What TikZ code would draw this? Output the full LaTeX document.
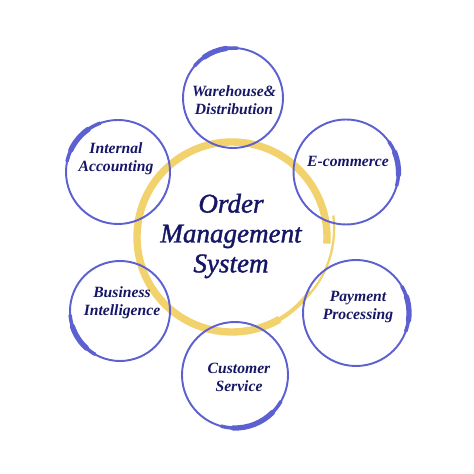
\documentclass[tikz,border=0pt]{standalone}
\usepackage{fontspec}
\setmainfont{Liberation Serif}
\newfontfamily\omsfont[FakeBold=1.4]{Liberation Serif}
\definecolor{ringblue}{RGB}{92,96,208}
\definecolor{ringyellow}{RGB}{241,210,108}
\definecolor{textnavy}{RGB}{22,22,102}
\begin{document}
\begin{tikzpicture}[
    ring/.style={draw=ringblue, line width=1.1pt},
    brush/.style={draw=ringblue, line width=2.0pt, line cap=round},
    brushcore/.style={draw=ringblue, line width=3.0pt, line cap=round},
    lbl/.style={text=textnavy, align=center, font=\fontsize{8.9}{10.3}\selectfont\bfseries\itshape},
    title/.style={text=textnavy, align=center, font=\fontsize{15.4}{17}\selectfont\omsfont\itshape}
  ]
    \useasboundingbox (0,0) rectangle (9.48,9.48);
    % centre ring
    \coordinate (oms) at (4.64,4.74);
    \draw [ringyellow, line width=4.2pt] (oms) ++(-4:1.9) arc[start angle=-4, end angle=300, radius=1.9];
    \draw [ringyellow, line width=2.4pt] (oms) ++(290:1.9) arc[start angle=290, end angle=325, radius=1.9];
    \draw [ringyellow, line width=1.3pt, shift={(oms)}] plot[domain=315:372, smooth, samples=20]
      ({(1.9+0.003*(\x-315))*cos(\x)}, {(1.9+0.003*(\x-315))*sin(\x)});
    \node [title] (omstext) at (4.62,4.76) {Order\\Management\\System};
    % outer rings
    \coordinate (wh) at (4.66,7.52);
    \coordinate (ia) at (2.36,6.04);
    \coordinate (ec) at (6.92,6.04);
    \coordinate (bi) at (2.40,3.26);
    \coordinate (pp) at (7.12,3.22);
    \coordinate (cs) at (4.70,1.98);
    \draw [ring] (wh) circle[radius=1.0];
    \draw [ring] (ia) circle[radius=1.04];
    \draw [ring] (ec) circle[radius=1.05];
    \draw [ring] (bi) circle[radius=1.0];
    \draw [ring] (pp) circle[radius=1.06];
    \draw [ring] (cs) circle[radius=1.06];
    \draw [brush] (wh) ++(85:1.0) arc[start angle=85, end angle=140, radius=1.0];
    \draw [brushcore] (wh) ++(98:1.0) arc[start angle=98, end angle=125, radius=1.0];
    \draw [brush] (ia) ++(110:1.04) arc[start angle=110, end angle=168, radius=1.04];
    \draw [brushcore] (ia) ++(125:1.04) arc[start angle=125, end angle=155, radius=1.04];
    \draw [brush] (ec) ++(-15:1.05) arc[start angle=-15, end angle=35, radius=1.05];
    \draw [brushcore] (ec) ++(-3:1.05) arc[start angle=-3, end angle=22, radius=1.05];
    \draw [brush] (bi) ++(185:1.0) arc[start angle=185, end angle=240, radius=1.0];
    \draw [brushcore] (bi) ++(198:1.0) arc[start angle=198, end angle=228, radius=1.0];
    \draw [brush] (pp) ++(-20:1.06) arc[start angle=-20, end angle=30, radius=1.06];
    \draw [brushcore] (pp) ++(-8:1.06) arc[start angle=-8, end angle=18, radius=1.06];
    \draw [brush] (cs) ++(255:1.06) arc[start angle=255, end angle=330, radius=1.06];
    \draw [brushcore] (cs) ++(268:1.06) arc[start angle=268, end angle=315, radius=1.06];
    % labels
    \node [lbl] (whtext) at (4.68,7.48) {Warehouse\&\\Distribution};
    \node [lbl] (iatext) at (2.32,6.30) {Internal\\Accounting};
    \node [lbl] (ectext) at (6.96,6.26) {E-commerce};
    \node [lbl] (bitext) at (2.44,3.42) {Business\\Intelligence};
    \node [lbl] (pptext) at (7.16,3.34) {Payment\\Processing};
    \node [lbl] (cstext) at (4.78,1.94) {Customer\\Service};
\end{tikzpicture}
\end{document}
